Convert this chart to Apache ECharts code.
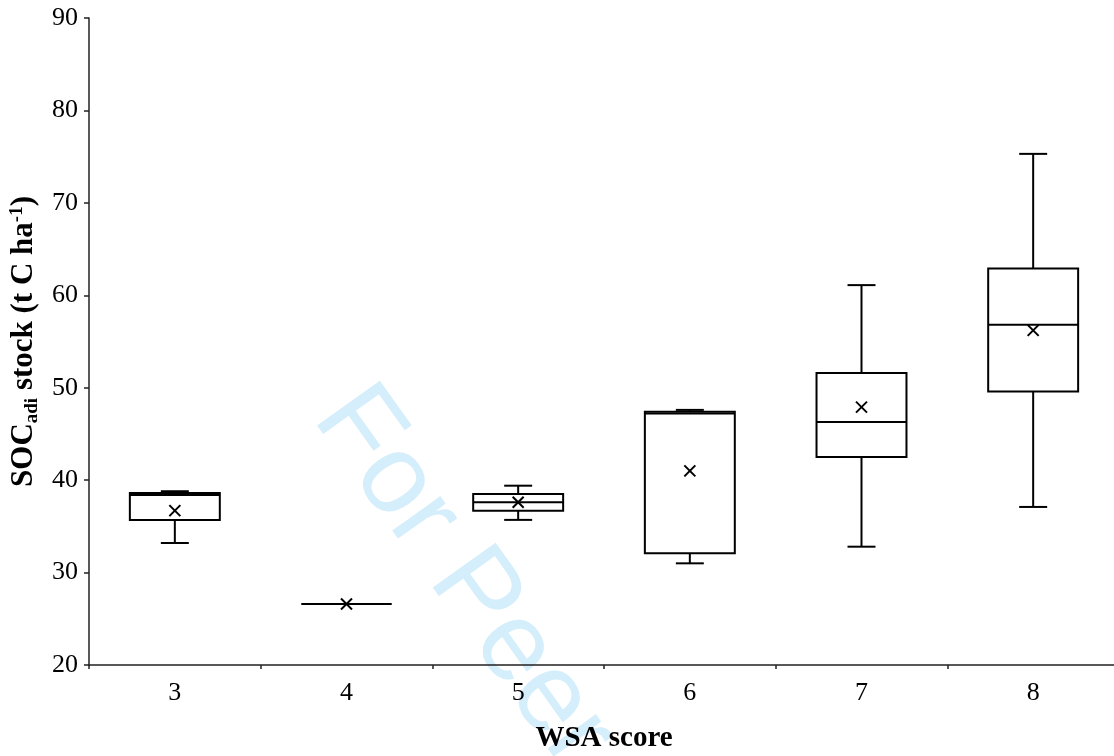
<!DOCTYPE html>
<html>
<head>
<meta charset="utf-8">
<script src="https://cdn.jsdelivr.net/npm/echarts@6/dist/echarts.min.js"></script>
<style>
  html, body { margin: 0; padding: 0; background: #fff; }
  #chart { width: 1114px; height: 756px; }
</style>
</head>
<body>
<div id="chart"></div>
<script>
// WSA score categories
var categories = ['3', '4', '5', '6', '7', '8'];
// box plot statistics (t C ha-1)
var minVals = [33.2, 26.6, 35.7, 31.0, 32.8, 37.1];
var q1Vals = [35.7, 26.6, 36.7, 32.1, 42.5, 49.6];
var medianVals = [38.4, 26.6, 37.6, 47.2, 46.3, 56.8];
var q3Vals = [38.6, 26.6, 38.5, 47.4, 51.6, 62.9];
var maxVals = [38.8, 26.6, 39.4, 47.6, 61.1, 75.3];
var meanVals = [36.7, 26.6, 37.6, 41.0, 47.9, 56.2];
var yTicks = [20, 30, 40, 50, 60, 70, 80, 90];

var serif = '"Liberation Serif", "Times New Roman", serif';

var myChart = echarts.init(document.getElementById('chart'));

var boxData = categories.map(function (c, i) {
  return [i, minVals[i], q1Vals[i], medianVals[i], q3Vals[i], maxVals[i], meanVals[i]];
});

// draws one box with whiskers and mean cross
function renderBox(params, api) {
  var idx = api.value(0);
  var band = api.size([1, 0])[0];
  var boxW = band * 0.524;
  var capW = band * 0.163;
  var cx = api.coord([idx, 0])[0];
  var yMin = api.coord([idx, api.value(1)])[1];
  var yQ1 = api.coord([idx, api.value(2)])[1];
  var yMed = api.coord([idx, api.value(3)])[1];
  var yQ3 = api.coord([idx, api.value(4)])[1];
  var yMax = api.coord([idx, api.value(5)])[1];
  var yMean = api.coord([idx, api.value(6)])[1];
  var st = { stroke: '#000', lineWidth: 2, fill: null };
  var m = 5.5;
  return {
    type: 'group',
    children: [
      { type: 'line', shape: { x1: cx, y1: yMax, x2: cx, y2: yQ3 }, style: st },
      { type: 'line', shape: { x1: cx, y1: yQ1, x2: cx, y2: yMin }, style: st },
      { type: 'line', shape: { x1: cx - capW / 2, y1: yMax, x2: cx + capW / 2, y2: yMax }, style: st },
      { type: 'line', shape: { x1: cx - capW / 2, y1: yMin, x2: cx + capW / 2, y2: yMin }, style: st },
      { type: 'rect', shape: { x: cx - boxW / 2, y: yQ3, width: boxW, height: yQ1 - yQ3 }, style: { stroke: '#000', lineWidth: 2, fill: '#fff' } },
      { type: 'line', shape: { x1: cx - boxW / 2, y1: yMed, x2: cx + boxW / 2, y2: yMed }, style: st },
      { type: 'line', shape: { x1: cx - m, y1: yMean - m, x2: cx + m, y2: yMean + m }, style: st },
      { type: 'line', shape: { x1: cx - m, y1: yMean + m, x2: cx + m, y2: yMean - m }, style: st }
    ]
  };
}

var option = {
  backgroundColor: '#fff',
  animation: false,
  grid: {
    left: 89,
    right: -5,
    top: 18,
    bottom: 91,
    containLabel: false,
    outerBoundsMode: 'none'
  },
  graphic: [
    {
      type: 'text',
      z: -1,
      x: 337,
      y: 400,
      rotation: -0.951,
      style: {
        text: 'For Peer Review',
        font: '112px "Liberation Sans", Arial, sans-serif',
        fill: 'rgb(212,238,251)',
        align: 'left',
        verticalAlign: 'middle'
      }
    }
  ],
  xAxis: {
    type: 'category',
    data: categories,
    boundaryGap: true,
    name: 'WSA score',
    nameLocation: 'middle',
    nameGap: 59,
    nameTextStyle: { fontFamily: serif, fontWeight: 'bold', fontSize: 29, color: '#000' },
    axisLine: { lineStyle: { color: '#222', width: 1.5 } },
    axisTick: { show: true, length: 4, lineStyle: { color: '#222', width: 1.5 } },
    axisLabel: { fontFamily: serif, fontSize: 26, color: '#000', margin: 15 },
    splitLine: { show: false }
  },
  yAxis: {
    type: 'value',
    min: yTicks[0],
    max: yTicks[yTicks.length - 1],
    interval: 10,
    name: '{b|SOC}{sub|adi}{b| stock (t C ha}{sup|-1}{b|)}',
    nameLocation: 'middle',
    nameRotate: 90,
    nameGap: 47,
    nameTextStyle: {
      fontFamily: serif,
      color: '#000',
      rich: {
        b: { fontFamily: serif, fontWeight: 'bold', fontSize: 31, color: '#000' },
        sub: { fontFamily: serif, fontWeight: 'bold', fontSize: 19, color: '#000', padding: [15, 0, 0, 0] },
        sup: { fontFamily: serif, fontWeight: 'bold', fontSize: 19, color: '#000', padding: [0, 0, 15, 0] }
      }
    },
    axisLine: { show: true, lineStyle: { color: '#222', width: 1.5 } },
    axisTick: { show: true, length: 5, lineStyle: { color: '#222', width: 1.5 } },
    axisLabel: { fontFamily: serif, fontSize: 26, color: '#000', margin: 11 },
    splitLine: { show: false }
  },
  series: [
    {
      name: 'SOC',
      type: 'custom',
      renderItem: renderBox,
      encode: { x: 0, y: [1, 2, 3, 4, 5, 6] },
      data: boxData,
      z: 2
    }
  ]
};

option && myChart.setOption(option);
</script>
</body>
</html>
